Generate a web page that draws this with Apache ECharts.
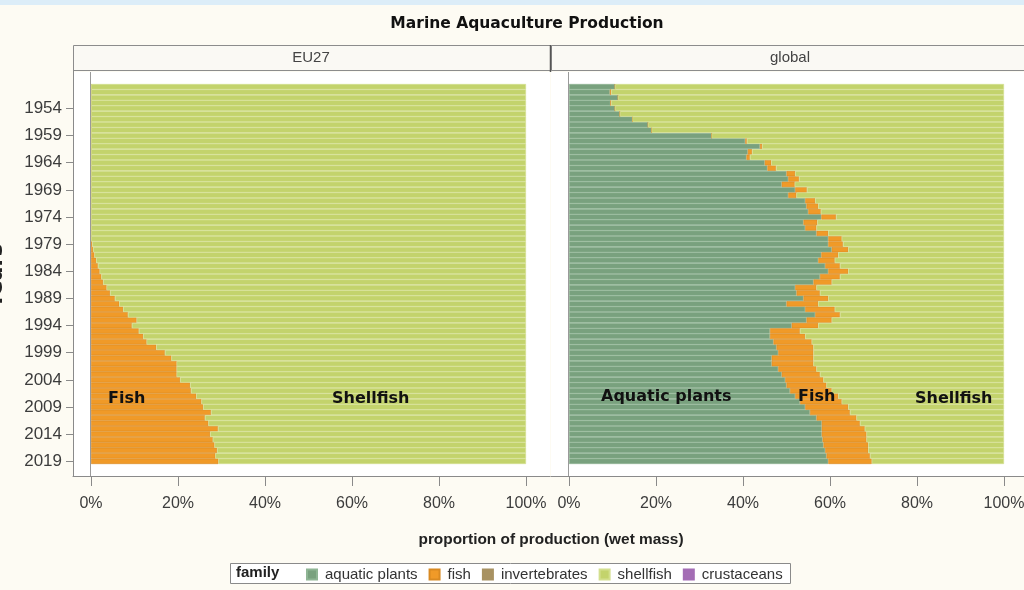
<!DOCTYPE html>
<html><head><meta charset="utf-8">
<script src="https://cdn.jsdelivr.net/npm/echarts@6.0.0/dist/echarts.min.js"></script>
<style>html,body{margin:0;padding:0;background:#fdfbf3;}#c{width:1024px;height:590px;}</style>
</head><body><div id="c"></div>
<script>
const years = ['1950','1951','1952','1953','1954','1955','1956','1957','1958','1959',
'1960','1961','1962','1963','1964','1965','1966','1967','1968','1969',
'1970','1971','1972','1973','1974','1975','1976','1977','1978','1979',
'1980','1981','1982','1983','1984','1985','1986','1987','1988','1989',
'1990','1991','1992','1993','1994','1995','1996','1997','1998','1999',
'2000','2001','2002','2003','2004','2005','2006','2007','2008','2009',
'2010','2011','2012','2013','2014','2015','2016','2017','2018','2019'];
const yearTickLabels = ['1954','1959','1964','1969','1974','1979','1984','1989','1994','1999','2004','2009','2014','2019'];
const pctTicks = [0,20,40,60,80,100];

// EU27 (percent of production)
const euFish = [0,0,0,0,0,0,0,0,0,0, 0,0,0,0,0,0,0,0,0,0, 0,0,0,0,0,0,0,0,0,0.3,
0.5,0.8,1.2,1.6,2.0,2.4,2.8,3.6,4.4,5.5, 6.5,7.4,8.5,10.5,9.4,11.0,12.0,12.8,15.0,17.0,
18.5,19.7,19.7,19.7,20.5,22.8,23.0,24.2,25.4,25.8, 27.6,26.2,27.0,29.2,27.4,28.0,28.4,29.0,28.6,29.3];
const euShellfish = [100,100,100,100,100,100,100,100,100,100, 100,100,100,100,100,100,100,100,100,100, 100,100,100,100,100,100,100,100,100,99.7,
99.5,99.2,98.8,98.4,98.0,97.6,97.2,96.4,95.6,94.5, 93.5,92.6,91.5,89.5,90.6,89.0,88.0,87.2,85.0,83.0,
81.5,80.3,80.3,80.3,79.5,77.2,77.0,75.8,74.6,74.2, 72.4,73.8,73.0,70.8,72.6,72.0,71.6,71.0,71.4,70.7];

// global (percent of production)
const glPlants = [10.6,9.4,11.3,9.5,10.6,11.7,14.6,18.2,19.0,32.8,
40.5,43.9,41.1,40.8,45.0,45.6,50.0,50.4,48.9,52.0,
50.4,54.3,54.6,55.0,58.0,53.9,54.3,56.9,59.6,59.6,
60.4,58.0,57.3,58.9,59.6,57.7,56.2,52.0,52.3,53.9,
50.0,54.3,56.6,54.6,51.2,46.2,46.2,47.0,47.7,48.1,
46.6,46.6,48.1,48.9,49.7,50.0,50.8,52.0,53.1,54.3,
55.4,56.9,58.1,58.1,58.1,58.3,58.5,58.9,59.2,59.6];
const glFish = [0,0.3,0,0.2,0,0,0,0,0,0,
0.4,0.5,1.0,0.8,1.5,2.0,2.0,2.5,3.0,2.7,
1.9,2.3,2.7,2.9,3.4,3.2,2.6,2.7,3.1,3.4,
3.8,3.9,3.8,3.4,4.6,4.6,4.2,4.9,5.4,5.7,
7.3,6.8,5.7,5.8,6.1,6.9,8.1,8.8,8.5,8.1,
9.6,9.6,8.8,8.8,8.8,9.2,9.6,9.9,9.6,9.9,
9.2,9.2,8.8,9.9,10.3,10.1,10.3,9.9,10.0,10.0];
const glShellfish = [89.4,90.3,88.7,90.3,89.4,88.3,85.4,81.8,81.0,67.2,
59.1,55.6,57.9,58.4,53.5,52.4,48.0,47.1,48.1,45.3,
47.7,43.4,42.7,42.1,38.6,42.9,43.1,40.4,37.3,37.0,
35.8,38.1,38.9,37.7,35.8,37.7,39.6,43.1,42.3,40.4,
42.7,38.9,37.7,39.6,42.7,46.9,45.7,44.2,43.8,43.8,
43.8,43.8,43.1,42.3,41.5,40.8,39.6,38.1,37.3,35.8,
35.4,33.9,33.1,32.0,31.6,31.6,31.2,31.2,30.8,30.4];
const invertebrates = [];
const crustaceans = [];

const families = ['aquatic plants','fish','invertebrates','shellfish','crustaceans'];
const COL = {
  'aquatic plants': ['#79a17e', '#8fb594'],
  'fish': ['#f09a28', '#d98a22'],
  'invertebrates': ['#a89262', '#a89262'],
  'shellfish': ['#c3d36c', '#d3df8e'],
  'crustaceans': ['#a46db5', '#a46db5']
};
const SANS = '"Liberation Sans", Arial, sans-serif';
const BOLDF = '"DejaVu Sans", Verdana, sans-serif';

function bar(name, data, gi, stack) {
  return {
    type: 'bar', name: name, data: data, stack: stack,
    xAxisIndex: gi, yAxisIndex: gi,
    barCategoryGap: '0%',
    itemStyle: { color: COL[name][0], borderColor: COL[name][1], borderWidth: 0.6 },
    emphasis: { disabled: true }, animation: false
  };
}

function xAx(gi) {
  return {
    type: 'value', gridIndex: gi, min: -4.14, max: 105.52, offset: 12,
    splitLine: { show: false },
    axisLine: { show: true, onZero: false, lineStyle: { color: '#8a8a8a', width: 1 } },
    axisTick: { show: true, customValues: pctTicks, length: 10, lineStyle: { color: '#8a8a8a' } },
    axisLabel: { customValues: pctTicks, formatter: v => v + '%', margin: 20,
      fontFamily: SANS, fontSize: 16, color: '#3c3c3c' }
  };
}
function yAx(gi, show) {
  return {
    type: 'category', gridIndex: gi, data: years, inverse: true,
    axisLine: { show: false, onZero: false },
    axisTick: { show: show, alignWithLabel: true, length: 7,
      interval: (i, v) => yearTickLabels.indexOf(v) >= 0, lineStyle: { color: '#8a8a8a' } },
    axisLabel: { show: show, interval: (i, v) => yearTickLabels.indexOf(v) >= 0, margin: 11,
      fontFamily: SANS, fontSize: 17, color: '#3c3c3c' }
  };
}

const chart = echarts.init(document.getElementById('c'), null, { renderer: 'canvas' });
chart.setOption({
  backgroundColor: '#fdfbf3',
  animation: false,
  grid: [
    { left: 73, top: 84, width: 477, height: 380, outerBoundsMode: 'none', containLabel: false },
    { left: 551, top: 84, width: 477, height: 380, outerBoundsMode: 'none', containLabel: false }
  ],
  xAxis: [xAx(0), xAx(1)],
  yAxis: [yAx(0, true), yAx(1, false)],
  legend: {
    data: families, left: 301, top: 562, itemWidth: 10, itemHeight: 10, itemGap: 11,
    icon: 'rect', selectedMode: false,
    textStyle: { fontFamily: SANS, fontSize: 15, color: '#333', padding: [0, 0, 0, 3] }
  },
  series: [
    bar('fish', euFish, 0, 'eu'),
    bar('shellfish', euShellfish, 0, 'eu'),
    bar('invertebrates', invertebrates, 0, 'eu'),
    bar('crustaceans', crustaceans, 0, 'eu'),
    bar('aquatic plants', glPlants, 1, 'gl'),
    bar('fish', glFish, 1, 'gl'),
    bar('shellfish', glShellfish, 1, 'gl')
  ]
});

const x0a = chart.convertToPixel({ xAxisIndex: 0 }, 0);
const x0b = chart.convertToPixel({ xAxisIndex: 1 }, 0);

const g = [
  { type: 'rect', z: -10, shape: { x: 0, y: 0, width: 1024, height: 5 }, style: { fill: '#dcedf8' } },
  { type: 'rect', z: -5, shape: { x: 73, y: 72, width: 477, height: 404 }, style: { fill: '#ffffff' } },
  { type: 'rect', z: -5, shape: { x: 551, y: 72, width: 480, height: 404 }, style: { fill: '#ffffff' } },
  { type: 'line', z: 50, shape: { x1: 73.5, y1: 70, x2: 73.5, y2: 476 }, style: { stroke: '#8a8a8a', lineWidth: 1 } },
  { type: 'line', z: 50, shape: { x1: Math.round(x0a) - 0.5, y1: 72, x2: Math.round(x0a) - 0.5, y2: 476 }, style: { stroke: '#9a9a9a', lineWidth: 1 } },
  { type: 'line', z: 50, shape: { x1: Math.round(x0b) - 0.5, y1: 72, x2: Math.round(x0b) - 0.5, y2: 476 }, style: { stroke: '#9a9a9a', lineWidth: 1 } },
  { type: 'rect', z: 5, shape: { x: 73.5, y: 45.5, width: 477, height: 25 }, style: { fill: '#faf9f4', stroke: '#8c8c8c', lineWidth: 1 } },
  { type: 'rect', z: 5, shape: { x: 551.5, y: 45.5, width: 480, height: 25 }, style: { fill: '#faf9f4', stroke: '#8c8c8c', lineWidth: 1 } },
  { type: 'line', z: 6, shape: { x1: 550.5, y1: 45, x2: 550.5, y2: 72 }, style: { stroke: '#555', lineWidth: 1.5 } },
  { type: 'text', z: 10, x: 311, y: 58, style: { text: 'EU27', font: '15px ' + SANS, fill: '#444', textAlign: 'center', textVerticalAlign: 'middle' } },
  { type: 'text', z: 10, x: 790, y: 58, style: { text: 'global', font: '15px ' + SANS, fill: '#444', textAlign: 'center', textVerticalAlign: 'middle' } },
  { type: 'text', z: 10, x: 527, y: 24, style: { text: 'Marine Aquaculture Production', font: 'bold 15.5px ' + BOLDF, fill: '#111', textAlign: 'center', textVerticalAlign: 'middle' } },
  { type: 'text', z: 10, x: 551, y: 540, style: { text: 'proportion of production (wet mass)', font: 'bold 15.4px ' + SANS, fill: '#222', textAlign: 'center', textVerticalAlign: 'middle' } },
  { type: 'text', z: 10, x: 7, y: 276, rotation: Math.PI / 2, style: { text: 'Years', font: 'bold 21px ' + BOLDF, fill: '#222', textAlign: 'center', textVerticalAlign: 'bottom' } },
  { type: 'text', z: 100, x: 108, y: 399, style: { text: 'Fish', font: 'bold 16px ' + BOLDF, fill: '#111', textAlign: 'left', textVerticalAlign: 'middle' } },
  { type: 'text', z: 100, x: 332, y: 399, style: { text: 'Shellfish', font: 'bold 16px ' + BOLDF, fill: '#111', textAlign: 'left', textVerticalAlign: 'middle' } },
  { type: 'text', z: 100, x: 601, y: 397, style: { text: 'Aquatic plants', font: 'bold 16px ' + BOLDF, fill: '#111', textAlign: 'left', textVerticalAlign: 'middle' } },
  { type: 'text', z: 100, x: 798, y: 397, style: { text: 'Fish', font: 'bold 16px ' + BOLDF, fill: '#111', textAlign: 'left', textVerticalAlign: 'middle' } },
  { type: 'text', z: 100, x: 915, y: 399, style: { text: 'Shellfish', font: 'bold 16px ' + BOLDF, fill: '#111', textAlign: 'left', textVerticalAlign: 'middle' } },
  { type: 'rect', z: -1, shape: { x: 230.5, y: 563.5, width: 560, height: 20 }, style: { fill: '#ffffff', stroke: '#8a8a8a', lineWidth: 1 } },
  { type: 'text', z: 10, x: 236, y: 573, style: { text: 'family', font: 'bold 15px ' + SANS, fill: '#222', textAlign: 'left', textVerticalAlign: 'middle' } }
];
chart.setOption({ graphic: g });
</script></body></html>
